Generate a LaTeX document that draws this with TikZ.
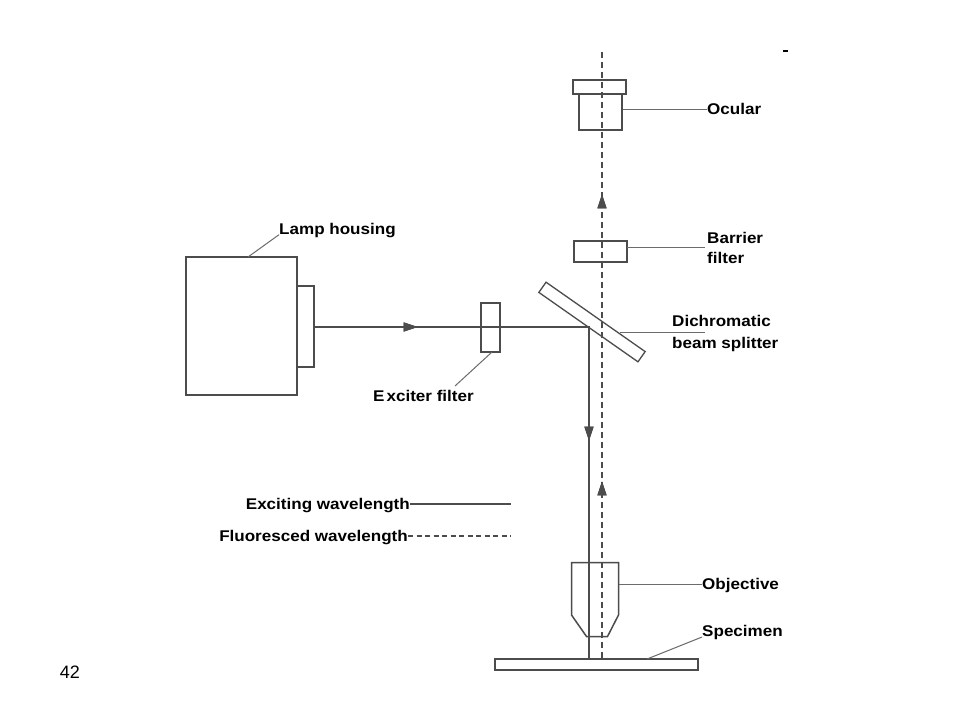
\documentclass[tikz,border=0pt]{standalone}
\usepackage{fontspec}
\usepackage{tikz}
\usetikzlibrary{arrows.meta,decorations.markings,positioning}
\newfontfamily\lblfont{Liberation Sans}[FakeStretch=1.1]
\newfontfamily\pagefont{Liberation Sans}
\definecolor{ink}{gray}{0.3}
\definecolor{leadink}{gray}{0.42}

\tikzset{
	part/.style={draw=ink, line width=1.3pt, minimum size=0pt, inner sep=0pt},
	beam/.style={draw=ink, line width=1.3pt},
	fluor/.style={beam, dash pattern=on 6pt off 4pt},
	leader/.style={draw=leadink, line width=1pt},
	lbl/.style={font=\lblfont\bfseries\fontsize{15.5}{18}\selectfont, text=black, inner sep=0pt, text height=11pt, text depth=0pt},
	tipat/.style={postaction={decorate, solid}, decoration={markings, mark=at position #1 with {\arrow{Triangle[length=14pt,width=9pt]}}}}
}

\begin{document}
\begin{tikzpicture}[x=1pt,y=-1pt]

	\fill[white] (0,0) rectangle (960,720);
	\useasboundingbox (0,0) rectangle (960,720);

	\node[part, minimum width=111pt, minimum height=138pt] (lamp) at (241.5,326) {};
	\node[part, minimum width=17pt, minimum height=81pt] (port) at (305.5,326.5) {};
	\node[part, minimum width=19pt, minimum height=49pt] (exciter) at (490.5,327.5) {};
	\node[part, minimum width=121pt, minimum height=12.5pt, rotate=-35] (split) at (592,322) {};
	\node[part, minimum width=53pt, minimum height=21pt] (barrier) at (600.5,251.5) {};
	\node[part, minimum width=53pt, minimum height=14pt] (occap) at (599.5,87) {};
	\node[part, minimum width=43pt, minimum height=36pt] (ocbody) at (600.5,112) {};
	\node[part, minimum width=203pt, minimum height=11pt] (slide) at (596.5,664.5) {};
	\draw[part, line width=1.5pt] (571.5,562.5) -- (618.5,562.5) -- (618.5,615) -- (607.5,636.5) -- (586.5,636.5) -- (571.5,615) -- cycle;

	\coordinate (turn) at (589,327);
	\coordinate (eyetop) at (602,52);
	\draw[beam, tipat=103pt, postaction={decorate}, decoration={markings, mark=at position 388pt with {\arrow{Triangle[length=14pt,width=9pt]}}}]
		(port.east |- turn) -- (turn) -- (turn |- slide.north);
	\draw[fluor, tipat=177pt, postaction={decorate, solid}, decoration={markings, mark=at position 464pt with {\arrow{Triangle[length=14pt,width=9pt]}}}]
		(eyetop |- slide.north) -- (eyetop);

	% labels
	\node[lbl, anchor=west] (lamplbl) at (279,229) {Lamp housing};
	\draw[leader] (248,257) -- (lamplbl.south west);
	\node[lbl, anchor=west] (exclbl) at (373,396) {E\kern2pt xciter filter};
	\draw[leader] (492,352) -- (455,386);
	\node[lbl, anchor=west] (oclbl) at (707,109) {Ocular};
	\draw[leader] (ocbody.east |- oclbl.west) -- (oclbl.west);
	\node[lbl, anchor=west] (barlbl) at (707,238) {Barrier};
	\node[lbl, below=9pt of barlbl.south west, anchor=north west] (barlbl2) {filter};
	\draw[leader] (627,247) -- (705,247);
	\node[lbl, anchor=west] (splitlbl) at (672,321) {Dichromatic};
	\node[lbl, below=11pt of splitlbl.south west, anchor=north west] (splitlbl2) {beam splitter};
	\draw[leader] (620,332) -- (705,332);
	\node[lbl, anchor=west] (objlbl) at (702,584) {Objective};
	\draw[leader] (619,584) -- (objlbl.west);
	\node[lbl, anchor=west] (speclbl) at (702,631) {Specimen};
	\draw[leader] (647,659) -- (702,637);

	% legend
	\node[lbl, anchor=east] (exkey) at (410,504) {Exciting wavelength};
	\node[lbl, anchor=east] (flkey) at (408,536) {Fluoresced wavelength};
	\coordinate (keyend) at (511,0);
	\draw[beam, line width=1.2pt] (exkey.east) -- (exkey.east -| keyend);
	\draw[fluor, line width=1.2pt, dash pattern=on 5pt off 3.5pt] (flkey.east) -- (flkey.east -| keyend);

	\node[font=\pagefont\fontsize{18}{20}\selectfont, inner sep=0pt] (pageno) at (70,672) {42};
	\draw[black, line width=1.3pt] (783,51) -- (788,51);

\end{tikzpicture}
\end{document}
